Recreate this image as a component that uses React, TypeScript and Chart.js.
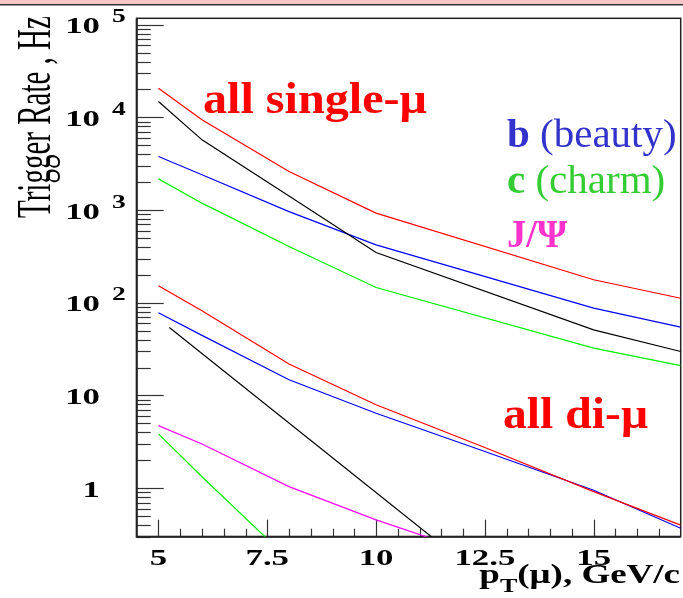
import { useEffect, useRef } from 'react';
import { Chart, registerables } from 'chart.js';

Chart.register(...registerables);

// Single-muon trigger rates (Hz) vs pT threshold (GeV/c)
const singleX = [5, 6, 8, 10, 15, 17];
const singleAll = [20650, 9400, 2600, 926, 177, 112];
const singleOther = [14800, 5720, 1420, 348, 51, 29.8];
const singleBeauty = [3776, 2400, 963, 421, 87.5, 54.6];
const singleCharm = [2170, 1187, 404, 146, 32.4, 21];

// Di-muon trigger rates (Hz)
const diX = [5, 6, 8, 10, 12.5, 15, 17];
const diAll = [153, 82, 21.9, 7.96, 2.75, 0.92, 0.4];
const diBeauty = [78, 44.5, 14.8, 6.44, 2.49, 0.95, 0.37];
const diOtherX = [5.25, 12];
const diOther = [54, 0.16];
const diCharmX = [5, 6, 8];
const diCharm = [3.85, 1.33, 0.17];
const diJpsiX = [5, 6, 8, 10, 12];
const diJpsi = [4.73, 3.0, 1.04, 0.455, 0.22];

// Axis ticks and labels
const xTickValues = [5, 7.5, 10, 12.5, 15];
const xTickLabels = ['5', '7.5', '10', '12.5', '15'];
const yTickValues = [1, 10, 100, 1000, 10000, 100000];
const yTickBase = ['1', '10', '10', '10', '10', '10'];
const yTickExp = ['', '', '2', '3', '4', '5'];

const SERIF = '"Liberation Serif", "Times New Roman", serif';

const pts = (xs: number[], ys: number[]) => xs.map((x, i) => ({ x, y: ys[i] }));

function stretched(
  ctx: CanvasRenderingContext2D,
  text: string,
  x: number,
  y: number,
  font: string,
  sx: number,
  align: 'left' | 'right' | 'center' = 'left',
) {
  ctx.save();
  ctx.font = font;
  const w = ctx.measureText(text).width * sx;
  let x0 = x;
  if (align === 'right') x0 = x - w;
  else if (align === 'center') x0 = x - w / 2;
  ctx.translate(x0, y);
  ctx.scale(sx, 1);
  ctx.textAlign = 'left';
  ctx.textBaseline = 'alphabetic';
  ctx.fillText(text, 0, 0);
  ctx.restore();
  return w;
}

const frameAndTicks = {
  id: 'frameAndTicks',
  beforeDatasetsDraw(chart: any) {
    const { ctx, chartArea, scales } = chart;
    const { left, right, top, bottom } = chartArea;
    const xs = scales.x;
    const ys = scales.y;
    ctx.save();
    ctx.strokeStyle = '#333';
    ctx.lineWidth = 1.2;
    // y-axis ticks (inside the frame, decade + minor)
    for (let e = -1; e <= 5; e++) {
      for (let m = 1; m <= 9; m++) {
        const v = m * Math.pow(10, e);
        if (v < ys.min * 0.999 || v > ys.max) continue;
        const py = Math.round(ys.getPixelForValue(v)) + 0.5;
        const len = m === 1 ? 27 : 14;
        ctx.beginPath();
        ctx.moveTo(left, py);
        ctx.lineTo(left + len, py);
        ctx.stroke();
      }
    }
    // x-axis ticks
    for (let v = 5; v < 17; v += 0.5) {
      const px = Math.round(xs.getPixelForValue(v)) + 0.5;
      const major = Math.abs(v / 2.5 - Math.round(v / 2.5)) < 1e-6;
      const len = major ? 17 : 8;
      ctx.beginPath();
      ctx.moveTo(px, bottom);
      ctx.lineTo(px, bottom - len);
      ctx.stroke();
    }
    // frame
    ctx.strokeStyle = '#222';
    ctx.lineWidth = 1.5;
    ctx.strokeRect(left, top, right - left, bottom - top);
    ctx.lineWidth = 2;
    ctx.beginPath();
    ctx.moveTo(left, top);
    ctx.lineTo(left, bottom);
    ctx.lineTo(right, bottom);
    ctx.stroke();
    ctx.restore();
  },
  afterDraw(chart: any) {
    const { ctx, scales, chartArea } = chart;
    const xs = scales.x;
    const ys = scales.y;
    ctx.save();
    // top strip
    ctx.fillStyle = '#f9c8c8';
    ctx.fillRect(0, 0, chart.width, 4);
    ctx.fillStyle = '#333';
    ctx.fillRect(0, 4, chart.width, 1.5);

    ctx.fillStyle = '#000';
    // y tick labels
    yTickValues.forEach((v, i) => {
      const py = ys.getPixelForValue(v);
      stretched(ctx, yTickBase[i], 100, py + 8.5, `bold 24px ${SERIF}`, 1.45, 'right');
      if (yTickExp[i]) {
        stretched(ctx, yTickExp[i], 112, py - 2.5, `bold 19px ${SERIF}`, 1.45, 'left');
      }
    });
    // x tick labels
    xTickValues.forEach((v, i) => {
      const px = xs.getPixelForValue(v);
      stretched(ctx, xTickLabels[i], px, chartArea.bottom + 28.5, `bold 24px ${SERIF}`, 1.45, 'center');
    });

    // x title: p_T(μ), GeV/c
    const sx = 1.37;
    const mainFont = `bold 27px ${SERIF}`;
    const subFont = `bold 19px ${SERIF}`;
    ctx.font = mainFont;
    const wP = ctx.measureText('p').width * sx;
    const wRest = ctx.measureText('(μ), GeV/c').width * sx;
    ctx.font = subFont;
    const wT = ctx.measureText('T').width * sx;
    const total = wP + wT + wRest;
    let tx = 680 - total;
    const base = 583;
    stretched(ctx, 'p', tx, base, mainFont, sx);
    tx += wP;
    stretched(ctx, 'T', tx, base + 9, subFont, sx);
    tx += wT;
    stretched(ctx, '(μ), GeV/c', tx, base, mainFont, sx);

    // y title
    ctx.save();
    ctx.translate(50, 218);
    ctx.rotate(-Math.PI / 2);
    ctx.scale(1, 1.7);
    ctx.font = `29px ${SERIF}`;
    ctx.textAlign = 'left';
    ctx.textBaseline = 'alphabetic';
    ctx.fillText('Trigger Rate , Hz', 0, 0);
    ctx.restore();

    // annotations
    ctx.fillStyle = '#ff0000';
    stretched(ctx, 'all single-μ', 203, 113, `bold 45px ${SERIF}`, 1.07);
    stretched(ctx, 'all di-μ', 503, 428, `bold 45px ${SERIF}`, 1.06);

    ctx.fillStyle = '#3333cc';
    let w = stretched(ctx, 'b ', 507, 146.5, `bold 41px ${SERIF}`, 1);
    stretched(ctx, '(beauty)', 507 + w, 146.5, `41px ${SERIF}`, 1);

    ctx.fillStyle = '#33cc33';
    w = stretched(ctx, 'c ', 507, 193, `bold 41px ${SERIF}`, 1);
    stretched(ctx, '(charm)', 507 + w, 193, `41px ${SERIF}`, 1);

    ctx.fillStyle = '#ff33cc';
    stretched(ctx, 'J/Ψ', 507, 246.5, `bold 41px ${SERIF}`, 0.94);
    ctx.restore();
  },
};

export default function App() {
  const canvasRef = useRef<HTMLCanvasElement | null>(null);

  useEffect(() => {
    const canvas = canvasRef.current;
    if (!canvas) return;
    const line = (data: { x: number; y: number }[], color: string) => ({
      data,
      borderColor: color,
      backgroundColor: color,
      borderWidth: 1.2,
      pointRadius: 0,
      tension: 0,
      fill: false,
    });
    const chart = new Chart(canvas, {
      type: 'line',
      data: {
        datasets: [
          line(pts(singleX, singleAll), '#ff0000'),
          line(pts(singleX, singleOther), '#000000'),
          line(pts(singleX, singleBeauty), '#0000ff'),
          line(pts(singleX, singleCharm), '#00ee00'),
          line(pts(diX, diAll), '#ff0000'),
          line(pts(diX, diBeauty), '#0000ff'),
          line(pts(diOtherX, diOther), '#000000'),
          line(pts(diCharmX, diCharm), '#00ee00'),
          line(pts(diJpsiX, diJpsi), '#ff00ff'),
        ] as any,
      },
      options: {
        responsive: false,
        animation: false,
        devicePixelRatio: 1,
        layout: { padding: { left: 136.7, top: 18.3, right: 2.3, bottom: 61.3 } },
        scales: {
          x: { type: 'linear', min: 4.5, max: 17, display: false },
          y: { type: 'logarithmic', min: 0.3, max: 117000, display: false },
        },
        plugins: {
          legend: { display: false },
          tooltip: { enabled: false },
        },
      },
      plugins: [frameAndTicks],
    });
    return () => chart.destroy();
  }, []);

  return (
    <div style={{ position: 'absolute', left: 0, top: 0, width: 683, height: 598, background: '#fff' }}>
      <canvas ref={canvasRef} width={683} height={598} style={{ display: 'block' }} />
    </div>
  );
}
